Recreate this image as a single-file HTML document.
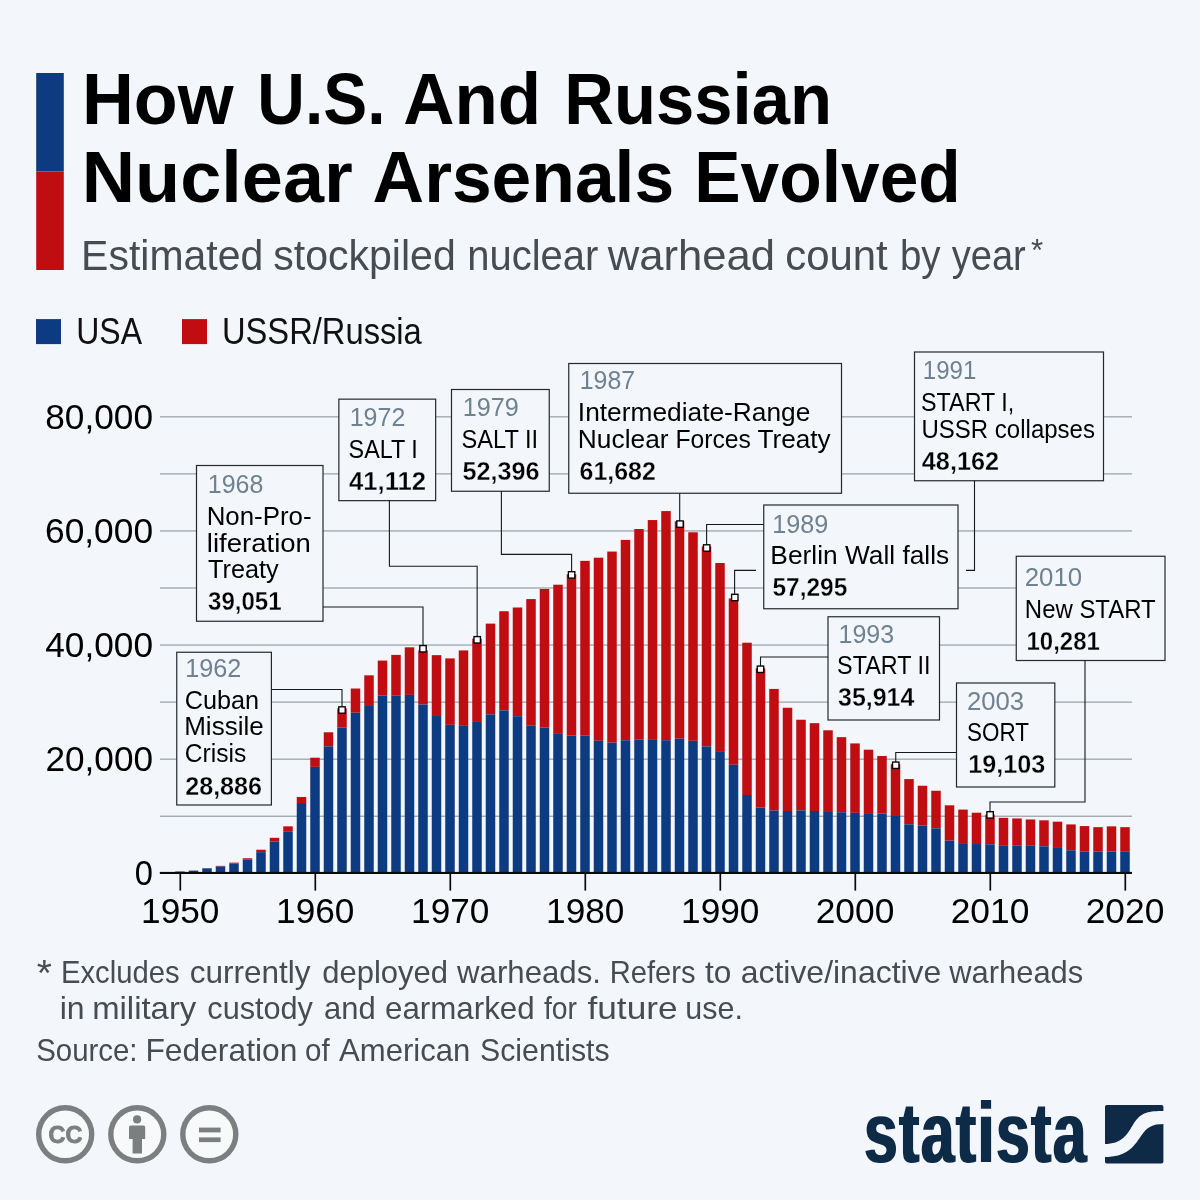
<!DOCTYPE html>
<html lang="en"><head><meta charset="utf-8"><title>How U.S. And Russian Nuclear Arsenals Evolved</title>
<style>html,body{margin:0;padding:0;background:#f3f7fb}svg{display:block}text{font-family:"Liberation Sans",sans-serif}</style></head><body>
<svg width="1200" height="1200" viewBox="0 0 1200 1200">
<defs><filter id="fat" x="-5%" y="-5%" width="110%" height="110%"><feMorphology operator="dilate" radius="1 0"/></filter></defs>
<rect width="1200" height="1200" fill="#f3f7fb"/>
<rect x="36.2" y="73" width="27.6" height="98.4" fill="#0c3b81"/><rect x="36.2" y="171.4" width="27.6" height="98.6" fill="#c00d11"/>
<rect x="36" y="319.1" width="25" height="25" fill="#0c3b81"/><rect x="182" y="319.1" width="25" height="25" fill="#c00d11"/>
<rect x="160" y="815.70" width="972" height="1" fill="#848c92"/>
<rect x="160" y="758.65" width="972" height="1" fill="#848c92"/>
<rect x="160" y="701.60" width="972" height="1" fill="#848c92"/>
<rect x="160" y="644.55" width="972" height="1" fill="#848c92"/>
<rect x="160" y="587.50" width="972" height="1" fill="#848c92"/>
<rect x="160" y="530.45" width="972" height="1" fill="#848c92"/>
<rect x="160" y="473.40" width="972" height="1" fill="#848c92"/>
<rect x="160" y="416.35" width="972" height="1" fill="#848c92"/>
<rect x="175.25" y="871.47" width="9.5" height="0.03" fill="#c00d11"/>
<rect x="175.25" y="871.49" width="9.5" height="1.01" fill="#0c3b81"/>
<rect x="188.75" y="870.56" width="9.5" height="0.14" fill="#c00d11"/>
<rect x="188.75" y="870.70" width="9.5" height="1.80" fill="#0c3b81"/>
<rect x="202.25" y="868.12" width="9.5" height="0.29" fill="#c00d11"/>
<rect x="202.25" y="868.40" width="9.5" height="4.10" fill="#0c3b81"/>
<rect x="215.75" y="865.85" width="9.5" height="0.68" fill="#c00d11"/>
<rect x="215.75" y="866.53" width="9.5" height="5.97" fill="#0c3b81"/>
<rect x="229.25" y="862.63" width="9.5" height="0.86" fill="#c00d11"/>
<rect x="229.25" y="863.48" width="9.5" height="9.02" fill="#0c3b81"/>
<rect x="242.75" y="858.24" width="9.5" height="1.14" fill="#c00d11"/>
<rect x="242.75" y="859.38" width="9.5" height="13.12" fill="#0c3b81"/>
<rect x="256.25" y="849.71" width="9.5" height="2.43" fill="#c00d11"/>
<rect x="256.25" y="852.14" width="9.5" height="20.36" fill="#0c3b81"/>
<rect x="269.75" y="837.81" width="9.5" height="3.77" fill="#c00d11"/>
<rect x="269.75" y="841.58" width="9.5" height="30.92" fill="#0c3b81"/>
<rect x="283.25" y="826.34" width="9.5" height="4.96" fill="#c00d11"/>
<rect x="283.25" y="831.30" width="9.5" height="41.20" fill="#0c3b81"/>
<rect x="296.75" y="796.99" width="9.5" height="6.05" fill="#c00d11"/>
<rect x="296.75" y="803.04" width="9.5" height="69.46" fill="#0c3b81"/>
<rect x="310.25" y="757.71" width="9.5" height="9.16" fill="#c00d11"/>
<rect x="310.25" y="766.87" width="9.5" height="105.63" fill="#0c3b81"/>
<rect x="323.75" y="732.29" width="9.5" height="14.10" fill="#c00d11"/>
<rect x="323.75" y="746.38" width="9.5" height="126.12" fill="#0c3b81"/>
<rect x="337.25" y="708.41" width="9.5" height="19.09" fill="#c00d11"/>
<rect x="337.25" y="727.49" width="9.5" height="145.01" fill="#0c3b81"/>
<rect x="350.75" y="688.52" width="9.5" height="24.18" fill="#c00d11"/>
<rect x="350.75" y="712.70" width="9.5" height="159.80" fill="#0c3b81"/>
<rect x="364.25" y="675.33" width="9.5" height="29.79" fill="#c00d11"/>
<rect x="364.25" y="705.11" width="9.5" height="167.39" fill="#0c3b81"/>
<rect x="377.75" y="660.59" width="9.5" height="34.97" fill="#c00d11"/>
<rect x="377.75" y="695.55" width="9.5" height="176.95" fill="#0c3b81"/>
<rect x="391.25" y="654.90" width="9.5" height="40.44" fill="#c00d11"/>
<rect x="391.25" y="695.35" width="9.5" height="177.15" fill="#0c3b81"/>
<rect x="404.75" y="647.32" width="9.5" height="47.57" fill="#c00d11"/>
<rect x="404.75" y="694.89" width="9.5" height="177.61" fill="#0c3b81"/>
<rect x="418.25" y="650.41" width="9.5" height="54.14" fill="#c00d11"/>
<rect x="418.25" y="704.55" width="9.5" height="167.95" fill="#0c3b81"/>
<rect x="431.75" y="655.15" width="9.5" height="60.86" fill="#c00d11"/>
<rect x="431.75" y="716.02" width="9.5" height="156.48" fill="#0c3b81"/>
<rect x="445.25" y="658.40" width="9.5" height="66.42" fill="#c00d11"/>
<rect x="445.25" y="724.82" width="9.5" height="147.68" fill="#0c3b81"/>
<rect x="458.75" y="650.42" width="9.5" height="75.42" fill="#c00d11"/>
<rect x="458.75" y="725.84" width="9.5" height="146.66" fill="#0c3b81"/>
<rect x="472.25" y="638.66" width="9.5" height="83.27" fill="#c00d11"/>
<rect x="472.25" y="721.93" width="9.5" height="150.57" fill="#0c3b81"/>
<rect x="485.75" y="623.61" width="9.5" height="90.80" fill="#c00d11"/>
<rect x="485.75" y="714.40" width="9.5" height="158.10" fill="#0c3b81"/>
<rect x="499.25" y="611.21" width="9.5" height="99.18" fill="#c00d11"/>
<rect x="499.25" y="710.40" width="9.5" height="162.10" fill="#0c3b81"/>
<rect x="512.75" y="607.50" width="9.5" height="108.71" fill="#c00d11"/>
<rect x="512.75" y="716.20" width="9.5" height="156.30" fill="#0c3b81"/>
<rect x="526.25" y="599.07" width="9.5" height="126.29" fill="#c00d11"/>
<rect x="526.25" y="725.36" width="9.5" height="147.14" fill="#0c3b81"/>
<rect x="539.75" y="588.98" width="9.5" height="138.51" fill="#c00d11"/>
<rect x="539.75" y="727.48" width="9.5" height="145.02" fill="#0c3b81"/>
<rect x="553.25" y="584.70" width="9.5" height="149.20" fill="#c00d11"/>
<rect x="553.25" y="733.90" width="9.5" height="138.60" fill="#0c3b81"/>
<rect x="566.75" y="574.28" width="9.5" height="161.21" fill="#c00d11"/>
<rect x="566.75" y="735.49" width="9.5" height="137.01" fill="#0c3b81"/>
<rect x="580.25" y="560.85" width="9.5" height="174.84" fill="#c00d11"/>
<rect x="580.25" y="735.69" width="9.5" height="136.81" fill="#0c3b81"/>
<rect x="593.75" y="557.71" width="9.5" height="183.08" fill="#c00d11"/>
<rect x="593.75" y="740.80" width="9.5" height="131.70" fill="#0c3b81"/>
<rect x="607.25" y="551.55" width="9.5" height="191.08" fill="#c00d11"/>
<rect x="607.25" y="742.64" width="9.5" height="129.86" fill="#0c3b81"/>
<rect x="620.75" y="539.91" width="9.5" height="200.33" fill="#c00d11"/>
<rect x="620.75" y="740.24" width="9.5" height="132.26" fill="#0c3b81"/>
<rect x="634.25" y="529.02" width="9.5" height="210.35" fill="#c00d11"/>
<rect x="634.25" y="739.37" width="9.5" height="133.13" fill="#0c3b81"/>
<rect x="647.75" y="520.06" width="9.5" height="219.83" fill="#c00d11"/>
<rect x="647.75" y="739.89" width="9.5" height="132.61" fill="#0c3b81"/>
<rect x="661.25" y="511.07" width="9.5" height="229.11" fill="#c00d11"/>
<rect x="661.25" y="740.18" width="9.5" height="132.32" fill="#0c3b81"/>
<rect x="674.75" y="521.30" width="9.5" height="217.40" fill="#c00d11"/>
<rect x="674.75" y="738.70" width="9.5" height="133.80" fill="#0c3b81"/>
<rect x="688.25" y="532.27" width="9.5" height="208.55" fill="#c00d11"/>
<rect x="688.25" y="740.82" width="9.5" height="131.68" fill="#0c3b81"/>
<rect x="701.75" y="546.33" width="9.5" height="200.12" fill="#c00d11"/>
<rect x="701.75" y="746.45" width="9.5" height="126.05" fill="#0c3b81"/>
<rect x="715.25" y="563.01" width="9.5" height="188.15" fill="#c00d11"/>
<rect x="715.25" y="751.16" width="9.5" height="121.34" fill="#0c3b81"/>
<rect x="728.75" y="598.44" width="9.5" height="166.32" fill="#c00d11"/>
<rect x="728.75" y="764.76" width="9.5" height="107.74" fill="#0c3b81"/>
<rect x="742.25" y="642.72" width="9.5" height="152.28" fill="#c00d11"/>
<rect x="742.25" y="795.00" width="9.5" height="77.50" fill="#0c3b81"/>
<rect x="755.75" y="668.31" width="9.5" height="139.22" fill="#c00d11"/>
<rect x="755.75" y="807.53" width="9.5" height="64.97" fill="#0c3b81"/>
<rect x="769.25" y="688.93" width="9.5" height="121.64" fill="#c00d11"/>
<rect x="769.25" y="810.56" width="9.5" height="61.94" fill="#0c3b81"/>
<rect x="782.75" y="707.76" width="9.5" height="103.24" fill="#c00d11"/>
<rect x="782.75" y="810.99" width="9.5" height="61.51" fill="#0c3b81"/>
<rect x="796.25" y="719.74" width="9.5" height="90.65" fill="#c00d11"/>
<rect x="796.25" y="810.38" width="9.5" height="62.12" fill="#0c3b81"/>
<rect x="809.75" y="723.16" width="9.5" height="87.84" fill="#c00d11"/>
<rect x="809.75" y="811.00" width="9.5" height="61.50" fill="#0c3b81"/>
<rect x="823.25" y="730.29" width="9.5" height="81.68" fill="#c00d11"/>
<rect x="823.25" y="811.97" width="9.5" height="60.53" fill="#0c3b81"/>
<rect x="836.75" y="737.14" width="9.5" height="75.11" fill="#c00d11"/>
<rect x="836.75" y="812.24" width="9.5" height="60.26" fill="#0c3b81"/>
<rect x="850.25" y="743.41" width="9.5" height="69.45" fill="#c00d11"/>
<rect x="850.25" y="812.86" width="9.5" height="59.64" fill="#0c3b81"/>
<rect x="863.75" y="749.69" width="9.5" height="63.46" fill="#c00d11"/>
<rect x="863.75" y="813.15" width="9.5" height="59.35" fill="#0c3b81"/>
<rect x="877.25" y="755.96" width="9.5" height="57.58" fill="#c00d11"/>
<rect x="877.25" y="813.54" width="9.5" height="58.96" fill="#0c3b81"/>
<rect x="890.75" y="764.22" width="9.5" height="51.78" fill="#c00d11"/>
<rect x="890.75" y="816.00" width="9.5" height="56.50" fill="#0c3b81"/>
<rect x="904.25" y="779.07" width="9.5" height="45.24" fill="#c00d11"/>
<rect x="904.25" y="824.31" width="9.5" height="48.19" fill="#0c3b81"/>
<rect x="917.75" y="785.74" width="9.5" height="39.76" fill="#c00d11"/>
<rect x="917.75" y="825.51" width="9.5" height="46.99" fill="#0c3b81"/>
<rect x="931.25" y="790.76" width="9.5" height="37.64" fill="#c00d11"/>
<rect x="931.25" y="828.40" width="9.5" height="44.10" fill="#0c3b81"/>
<rect x="944.75" y="805.31" width="9.5" height="35.32" fill="#c00d11"/>
<rect x="944.75" y="840.63" width="9.5" height="31.87" fill="#0c3b81"/>
<rect x="958.25" y="809.59" width="9.5" height="33.53" fill="#c00d11"/>
<rect x="958.25" y="843.12" width="9.5" height="29.38" fill="#0c3b81"/>
<rect x="971.75" y="812.73" width="9.5" height="31.30" fill="#c00d11"/>
<rect x="971.75" y="844.03" width="9.5" height="28.47" fill="#0c3b81"/>
<rect x="985.25" y="814.55" width="9.5" height="29.75" fill="#c00d11"/>
<rect x="985.25" y="844.30" width="9.5" height="28.20" fill="#0c3b81"/>
<rect x="998.75" y="817.86" width="9.5" height="27.40" fill="#c00d11"/>
<rect x="998.75" y="845.26" width="9.5" height="27.24" fill="#0c3b81"/>
<rect x="1012.25" y="818.43" width="9.5" height="26.92" fill="#c00d11"/>
<rect x="1012.25" y="845.35" width="9.5" height="27.15" fill="#0c3b81"/>
<rect x="1025.75" y="819.46" width="9.5" height="26.33" fill="#c00d11"/>
<rect x="1025.75" y="845.79" width="9.5" height="26.71" fill="#0c3b81"/>
<rect x="1039.25" y="820.31" width="9.5" height="25.97" fill="#c00d11"/>
<rect x="1039.25" y="846.29" width="9.5" height="26.21" fill="#0c3b81"/>
<rect x="1052.75" y="821.68" width="9.5" height="25.44" fill="#c00d11"/>
<rect x="1052.75" y="847.12" width="9.5" height="25.38" fill="#0c3b81"/>
<rect x="1066.25" y="824.42" width="9.5" height="25.86" fill="#c00d11"/>
<rect x="1066.25" y="850.28" width="9.5" height="22.22" fill="#0c3b81"/>
<rect x="1079.75" y="826.08" width="9.5" height="25.32" fill="#c00d11"/>
<rect x="1079.75" y="851.40" width="9.5" height="21.10" fill="#0c3b81"/>
<rect x="1093.25" y="827.16" width="9.5" height="24.45" fill="#c00d11"/>
<rect x="1093.25" y="851.61" width="9.5" height="20.89" fill="#0c3b81"/>
<rect x="1106.75" y="826.36" width="9.5" height="25.13" fill="#c00d11"/>
<rect x="1106.75" y="851.49" width="9.5" height="21.01" fill="#0c3b81"/>
<rect x="1120.25" y="827.16" width="9.5" height="24.65" fill="#c00d11"/>
<rect x="1120.25" y="851.81" width="9.5" height="20.69" fill="#0c3b81"/>
<rect x="159.8" y="871.9" width="972.2" height="2.1" fill="#0a0a0a"/>
<rect x="179.45" y="873" width="1.7" height="17.6" fill="#0a0a0a"/>
<rect x="314.45" y="873" width="1.7" height="17.6" fill="#0a0a0a"/>
<rect x="449.45" y="873" width="1.7" height="17.6" fill="#0a0a0a"/>
<rect x="584.45" y="873" width="1.7" height="17.6" fill="#0a0a0a"/>
<rect x="719.45" y="873" width="1.7" height="17.6" fill="#0a0a0a"/>
<rect x="854.45" y="873" width="1.7" height="17.6" fill="#0a0a0a"/>
<rect x="989.45" y="873" width="1.7" height="17.6" fill="#0a0a0a"/>
<rect x="1124.45" y="873" width="1.7" height="17.6" fill="#0a0a0a"/>
<rect x="176.75" y="652.25" width="94.65" height="152.75" fill="#f3f7fb" stroke="#24292d" stroke-width="1.2"/>
<rect x="196.50" y="465.50" width="126.50" height="155.75" fill="#f3f7fb" stroke="#24292d" stroke-width="1.2"/>
<rect x="338.85" y="399.15" width="96.80" height="101.50" fill="#f3f7fb" stroke="#24292d" stroke-width="1.2"/>
<rect x="451.50" y="389.50" width="97.75" height="101.75" fill="#f3f7fb" stroke="#24292d" stroke-width="1.2"/>
<rect x="568.75" y="363.50" width="272.75" height="129.75" fill="#f3f7fb" stroke="#24292d" stroke-width="1.2"/>
<rect x="763.75" y="505.00" width="194.25" height="103.75" fill="#f3f7fb" stroke="#24292d" stroke-width="1.2"/>
<rect x="914.50" y="352.00" width="189.00" height="128.75" fill="#f3f7fb" stroke="#24292d" stroke-width="1.2"/>
<rect x="828.00" y="616.75" width="111.50" height="103.25" fill="#f3f7fb" stroke="#24292d" stroke-width="1.2"/>
<rect x="956.50" y="683.00" width="98.30" height="104.00" fill="#f3f7fb" stroke="#24292d" stroke-width="1.2"/>
<rect x="1016.25" y="556.25" width="148.75" height="104.25" fill="#f3f7fb" stroke="#24292d" stroke-width="1.2"/>
<polyline points="271.40,689.50 342.00,689.50 342.00,707.00" fill="none" stroke="#15181b" stroke-width="1.1"/>
<polyline points="323.00,607.00 423.00,607.00 423.00,646.00" fill="none" stroke="#15181b" stroke-width="1.1"/>
<polyline points="389.40,500.60 389.40,566.25 477.15,566.25 477.15,637.00" fill="none" stroke="#15181b" stroke-width="1.1"/>
<polyline points="501.40,491.25 501.40,554.40 571.60,554.40 571.60,572.00" fill="none" stroke="#15181b" stroke-width="1.1"/>
<polyline points="679.70,493.25 679.70,521.00" fill="none" stroke="#15181b" stroke-width="1.1"/>
<polyline points="763.75,524.50 706.60,524.50 706.60,545.00" fill="none" stroke="#15181b" stroke-width="1.1"/>
<polyline points="974.50,480.75 974.50,570.40 966.00,570.40" fill="none" stroke="#15181b" stroke-width="1.1"/>
<polyline points="756.00,570.40 734.60,570.40 734.60,594.00" fill="none" stroke="#15181b" stroke-width="1.1"/>
<polyline points="828.00,657.00 760.50,657.00 760.50,666.00" fill="none" stroke="#15181b" stroke-width="1.1"/>
<polyline points="956.50,752.50 895.75,752.50 895.75,762.00" fill="none" stroke="#15181b" stroke-width="1.1"/>
<polyline points="1085.00,660.50 1085.00,802.00 990.00,802.00 990.00,812.00" fill="none" stroke="#15181b" stroke-width="1.1"/>
<rect x="338.80" y="706.80" width="6.4" height="6.4" fill="#fff" stroke="#000" stroke-width="1.35"/>
<rect x="419.80" y="645.55" width="6.4" height="6.4" fill="#fff" stroke="#000" stroke-width="1.35"/>
<rect x="474.00" y="636.60" width="6.4" height="6.4" fill="#fff" stroke="#000" stroke-width="1.35"/>
<rect x="568.40" y="571.70" width="6.4" height="6.4" fill="#fff" stroke="#000" stroke-width="1.35"/>
<rect x="676.80" y="520.90" width="6.4" height="6.4" fill="#fff" stroke="#000" stroke-width="1.35"/>
<rect x="703.50" y="544.80" width="6.4" height="6.4" fill="#fff" stroke="#000" stroke-width="1.35"/>
<rect x="731.60" y="594.30" width="6.4" height="6.4" fill="#fff" stroke="#000" stroke-width="1.35"/>
<rect x="757.30" y="666.05" width="6.4" height="6.4" fill="#fff" stroke="#000" stroke-width="1.35"/>
<rect x="892.55" y="762.05" width="6.4" height="6.4" fill="#fff" stroke="#000" stroke-width="1.35"/>
<rect x="986.90" y="811.70" width="6.4" height="6.4" fill="#fff" stroke="#000" stroke-width="1.35"/>
<text x="82.03" y="123.90" font-size="72.40" font-weight="bold" fill="#000" textLength="151.58" lengthAdjust="spacingAndGlyphs">How</text>
<text x="257.36" y="123.90" font-size="72.40" font-weight="bold" fill="#000" textLength="128.08" lengthAdjust="spacingAndGlyphs">U.S.</text>
<text x="403.27" y="123.90" font-size="72.40" font-weight="bold" fill="#000" textLength="137.86" lengthAdjust="spacingAndGlyphs">And</text>
<text x="564.30" y="123.90" font-size="72.40" font-weight="bold" fill="#000" textLength="267.71" lengthAdjust="spacingAndGlyphs">Russian</text>
<text x="81.72" y="201.80" font-size="72.40" font-weight="bold" fill="#000" textLength="271.06" lengthAdjust="spacingAndGlyphs">Nuclear</text>
<text x="372.61" y="201.80" font-size="72.40" font-weight="bold" fill="#000" textLength="301.51" lengthAdjust="spacingAndGlyphs">Arsenals</text>
<text x="694.26" y="201.80" font-size="72.40" font-weight="bold" fill="#000" textLength="266.59" lengthAdjust="spacingAndGlyphs">Evolved</text>
<text x="81.10" y="269.70" font-size="42.40" fill="#464c51" textLength="182.19" lengthAdjust="spacingAndGlyphs">Estimated</text>
<text x="273.23" y="269.70" font-size="42.40" fill="#464c51" textLength="182.56" lengthAdjust="spacingAndGlyphs">stockpiled</text>
<text x="467.31" y="269.70" font-size="42.40" fill="#464c51" textLength="131.10" lengthAdjust="spacingAndGlyphs">nuclear</text>
<text x="607.73" y="269.70" font-size="42.40" fill="#464c51" textLength="167.42" lengthAdjust="spacingAndGlyphs">warhead</text>
<text x="785.26" y="269.70" font-size="42.40" fill="#464c51" textLength="102.52" lengthAdjust="spacingAndGlyphs">count</text>
<text x="899.88" y="269.70" font-size="42.40" fill="#464c51" textLength="40.63" lengthAdjust="spacingAndGlyphs">by</text>
<text x="951.70" y="269.70" font-size="42.40" fill="#464c51" textLength="74.10" lengthAdjust="spacingAndGlyphs">year</text>
<text x="1031.00" y="261.28" font-size="30.56" fill="#464c51" textLength="12.18" lengthAdjust="spacingAndGlyphs">*</text>
<text x="76.22" y="343.80" font-size="36.00" fill="#111" textLength="65.79" lengthAdjust="spacingAndGlyphs">USA</text>
<text x="221.93" y="343.80" font-size="36.00" fill="#111" textLength="199.88" lengthAdjust="spacingAndGlyphs">USSR/Russia</text>
<text x="45.25" y="428.70" font-size="35.30" fill="#000" textLength="107.78" lengthAdjust="spacingAndGlyphs">80,000</text>
<text x="45.00" y="542.80" font-size="35.30" fill="#000" textLength="108.03" lengthAdjust="spacingAndGlyphs">60,000</text>
<text x="45.25" y="656.90" font-size="35.30" fill="#000" textLength="107.78" lengthAdjust="spacingAndGlyphs">40,000</text>
<text x="45.50" y="771.00" font-size="35.30" fill="#000" textLength="107.52" lengthAdjust="spacingAndGlyphs">20,000</text>
<text x="134.67" y="884.70" font-size="35.30" fill="#000" textLength="18.16" lengthAdjust="spacingAndGlyphs">0</text>
<text x="141.11" y="922.60" font-size="35.30" fill="#000" textLength="78.27" lengthAdjust="spacingAndGlyphs">1950</text>
<text x="276.11" y="922.60" font-size="35.30" fill="#000" textLength="78.27" lengthAdjust="spacingAndGlyphs">1960</text>
<text x="411.11" y="922.60" font-size="35.30" fill="#000" textLength="78.27" lengthAdjust="spacingAndGlyphs">1970</text>
<text x="546.11" y="922.60" font-size="35.30" fill="#000" textLength="78.27" lengthAdjust="spacingAndGlyphs">1980</text>
<text x="681.11" y="922.60" font-size="35.30" fill="#000" textLength="78.27" lengthAdjust="spacingAndGlyphs">1990</text>
<text x="815.70" y="922.60" font-size="35.30" fill="#000" textLength="78.63" lengthAdjust="spacingAndGlyphs">2000</text>
<text x="950.70" y="922.60" font-size="35.30" fill="#000" textLength="78.63" lengthAdjust="spacingAndGlyphs">2010</text>
<text x="1085.70" y="922.60" font-size="35.30" fill="#000" textLength="78.63" lengthAdjust="spacingAndGlyphs">2020</text>
<text x="36.70" y="985.88" font-size="37.50" fill="#464c51" textLength="15.11" lengthAdjust="spacingAndGlyphs">*</text>
<text x="61.03" y="982.80" font-size="31.20" fill="#464c51" textLength="118.53" lengthAdjust="spacingAndGlyphs">Excludes</text>
<text x="189.69" y="982.80" font-size="31.20" fill="#464c51" textLength="120.90" lengthAdjust="spacingAndGlyphs">currently</text>
<text x="322.31" y="982.80" font-size="31.20" fill="#464c51" textLength="125.73" lengthAdjust="spacingAndGlyphs">deployed</text>
<text x="457.00" y="982.80" font-size="31.20" fill="#464c51" textLength="143.97" lengthAdjust="spacingAndGlyphs">warheads.</text>
<text x="609.83" y="982.80" font-size="31.20" fill="#464c51" textLength="85.72" lengthAdjust="spacingAndGlyphs">Refers</text>
<text x="705.00" y="982.80" font-size="31.20" fill="#464c51" textLength="26.35" lengthAdjust="spacingAndGlyphs">to</text>
<text x="740.68" y="982.80" font-size="31.20" fill="#464c51" textLength="200.70" lengthAdjust="spacingAndGlyphs">active/inactive</text>
<text x="949.29" y="982.80" font-size="31.20" fill="#464c51" textLength="133.90" lengthAdjust="spacingAndGlyphs">warheads</text>
<text x="59.75" y="1018.70" font-size="31.20" fill="#464c51" textLength="24.94" lengthAdjust="spacingAndGlyphs">in</text>
<text x="92.19" y="1018.70" font-size="31.20" fill="#464c51" textLength="104.08" lengthAdjust="spacingAndGlyphs">military</text>
<text x="207.32" y="1018.70" font-size="31.20" fill="#464c51" textLength="105.58" lengthAdjust="spacingAndGlyphs">custody</text>
<text x="324.01" y="1018.70" font-size="31.20" fill="#464c51" textLength="51.63" lengthAdjust="spacingAndGlyphs">and</text>
<text x="385.00" y="1018.70" font-size="31.20" fill="#464c51" textLength="149.65" lengthAdjust="spacingAndGlyphs">earmarked</text>
<text x="544.00" y="1018.70" font-size="31.20" fill="#464c51" textLength="33.05" lengthAdjust="spacingAndGlyphs">for</text>
<text x="587.50" y="1018.70" font-size="31.20" fill="#464c51" textLength="90.02" lengthAdjust="spacingAndGlyphs">future</text>
<text x="685.35" y="1018.70" font-size="31.20" fill="#464c51" textLength="57.55" lengthAdjust="spacingAndGlyphs">use.</text>
<text x="36.16" y="1060.90" font-size="31.20" fill="#464c51" textLength="101.36" lengthAdjust="spacingAndGlyphs">Source:</text>
<text x="145.46" y="1060.90" font-size="31.20" fill="#464c51" textLength="151.91" lengthAdjust="spacingAndGlyphs">Federation</text>
<text x="305.05" y="1060.90" font-size="31.20" fill="#464c51" textLength="24.63" lengthAdjust="spacingAndGlyphs">of</text>
<text x="339.00" y="1060.90" font-size="31.20" fill="#464c51" textLength="131.34" lengthAdjust="spacingAndGlyphs">American</text>
<text x="480.03" y="1060.90" font-size="31.20" fill="#464c51" textLength="129.55" lengthAdjust="spacingAndGlyphs">Scientists</text>
<text x="864.19" y="1162.20" font-size="85.00" font-weight="bold" filter="url(#fat)" letter-spacing="2.6" fill="#0f2a47" textLength="223.82" lengthAdjust="spacingAndGlyphs">statista</text>
<text x="185.24" y="677.20" font-size="24.90" fill="#6f8290" textLength="56.12" lengthAdjust="spacingAndGlyphs">1962</text>
<text x="184.79" y="708.60" font-size="24.90" fill="#000" textLength="74.37" lengthAdjust="spacingAndGlyphs">Cuban</text>
<text x="184.21" y="735.40" font-size="24.90" fill="#000" textLength="79.47" lengthAdjust="spacingAndGlyphs">Missile</text>
<text x="184.81" y="762.40" font-size="24.90" fill="#000" textLength="61.43" lengthAdjust="spacingAndGlyphs">Crisis</text>
<text x="185.20" y="794.50" font-size="24.90" font-weight="bold" stroke="#f3f7fb" stroke-width="0.30" fill="#000" textLength="76.85" lengthAdjust="spacingAndGlyphs">28,886</text>
<text x="207.75" y="492.50" font-size="24.90" fill="#6f8290" textLength="55.60" lengthAdjust="spacingAndGlyphs">1968</text>
<text x="206.67" y="524.50" font-size="24.90" fill="#000" textLength="104.88" lengthAdjust="spacingAndGlyphs">Non-Pro-</text>
<text x="206.89" y="551.50" font-size="24.90" fill="#000" textLength="104.04" lengthAdjust="spacingAndGlyphs">liferation</text>
<text x="208.00" y="578.25" font-size="24.90" fill="#000" textLength="70.69" lengthAdjust="spacingAndGlyphs">Treaty</text>
<text x="208.00" y="610.00" font-size="24.90" font-weight="bold" stroke="#f3f7fb" stroke-width="0.30" fill="#000" textLength="73.60" lengthAdjust="spacingAndGlyphs">39,051</text>
<text x="349.69" y="425.50" font-size="24.90" fill="#6f8290" textLength="55.65" lengthAdjust="spacingAndGlyphs">1972</text>
<text x="348.57" y="458.00" font-size="24.90" fill="#000" textLength="69.22" lengthAdjust="spacingAndGlyphs">SALT I</text>
<text x="349.00" y="489.50" font-size="24.90" font-weight="bold" stroke="#f3f7fb" stroke-width="0.30" fill="#000" textLength="77.07" lengthAdjust="spacingAndGlyphs">41,112</text>
<text x="462.74" y="415.75" font-size="24.90" fill="#6f8290" textLength="56.12" lengthAdjust="spacingAndGlyphs">1979</text>
<text x="461.56" y="447.50" font-size="24.90" fill="#000" textLength="76.50" lengthAdjust="spacingAndGlyphs">SALT II</text>
<text x="462.50" y="479.50" font-size="24.90" font-weight="bold" stroke="#f3f7fb" stroke-width="0.30" fill="#000" textLength="77.10" lengthAdjust="spacingAndGlyphs">52,396</text>
<text x="579.75" y="389.25" font-size="24.90" fill="#6f8290" textLength="55.34" lengthAdjust="spacingAndGlyphs">1987</text>
<text x="577.89" y="421.25" font-size="24.90" fill="#000" textLength="232.50" lengthAdjust="spacingAndGlyphs">Intermediate-Range</text>
<text x="577.89" y="448.25" font-size="24.90" fill="#000" textLength="90.67" lengthAdjust="spacingAndGlyphs">Nuclear</text>
<text x="675.52" y="448.25" font-size="24.90" fill="#000" textLength="75.42" lengthAdjust="spacingAndGlyphs">Forces</text>
<text x="757.50" y="448.25" font-size="24.90" fill="#000" textLength="73.17" lengthAdjust="spacingAndGlyphs">Treaty</text>
<text x="579.50" y="480.00" font-size="24.90" font-weight="bold" stroke="#f3f7fb" stroke-width="0.30" fill="#000" textLength="76.35" lengthAdjust="spacingAndGlyphs">61,682</text>
<text x="772.24" y="532.50" font-size="24.90" fill="#6f8290" textLength="56.12" lengthAdjust="spacingAndGlyphs">1989</text>
<text x="770.39" y="563.75" font-size="24.90" fill="#000" textLength="178.83" lengthAdjust="spacingAndGlyphs">Berlin Wall falls</text>
<text x="772.50" y="596.25" font-size="24.90" font-weight="bold" stroke="#f3f7fb" stroke-width="0.30" fill="#000" textLength="74.85" lengthAdjust="spacingAndGlyphs">57,295</text>
<text x="922.78" y="379.25" font-size="24.90" fill="#6f8290" textLength="53.53" lengthAdjust="spacingAndGlyphs">1991</text>
<text x="921.07" y="411.25" font-size="24.90" fill="#000" textLength="93.22" lengthAdjust="spacingAndGlyphs">START I,</text>
<text x="921.54" y="438.25" font-size="24.90" fill="#000" textLength="173.39" lengthAdjust="spacingAndGlyphs">USSR collapses</text>
<text x="921.75" y="470.00" font-size="24.90" font-weight="bold" stroke="#f3f7fb" stroke-width="0.30" fill="#000" textLength="77.36" lengthAdjust="spacingAndGlyphs">48,162</text>
<text x="838.50" y="642.50" font-size="24.90" fill="#6f8290" textLength="55.60" lengthAdjust="spacingAndGlyphs">1993</text>
<text x="837.07" y="674.25" font-size="24.90" fill="#000" textLength="93.47" lengthAdjust="spacingAndGlyphs">START II</text>
<text x="838.00" y="706.25" font-size="24.90" font-weight="bold" stroke="#f3f7fb" stroke-width="0.30" fill="#000" textLength="76.34" lengthAdjust="spacingAndGlyphs">35,914</text>
<text x="966.97" y="709.50" font-size="24.90" fill="#6f8290" textLength="57.15" lengthAdjust="spacingAndGlyphs">2003</text>
<text x="967.10" y="741.25" font-size="24.90" fill="#000" textLength="61.83" lengthAdjust="spacingAndGlyphs">SORT</text>
<text x="968.24" y="773.25" font-size="24.90" font-weight="bold" stroke="#f3f7fb" stroke-width="0.30" fill="#000" textLength="77.12" lengthAdjust="spacingAndGlyphs">19,103</text>
<text x="1024.71" y="585.75" font-size="24.90" fill="#6f8290" textLength="57.41" lengthAdjust="spacingAndGlyphs">2010</text>
<text x="1024.83" y="617.50" font-size="24.90" fill="#000" textLength="130.87" lengthAdjust="spacingAndGlyphs">New START</text>
<text x="1026.54" y="649.50" font-size="24.90" font-weight="bold" stroke="#f3f7fb" stroke-width="0.30" fill="#000" textLength="73.31" lengthAdjust="spacingAndGlyphs">10,281</text>
<g id="cc" fill="none" stroke="#7b7f80" stroke-width="5.4">
<circle cx="65.2" cy="1134.3" r="26.5" fill="#f7f9fb"/>
<circle cx="137.3" cy="1134.3" r="26.5" fill="#f7f9fb"/>
<circle cx="209.3" cy="1134.3" r="26.5" fill="#f7f9fb"/>
</g>
<text x="48.6" y="1143" font-size="24.5" font-weight="bold" fill="#7b7f80" stroke="#7b7f80" stroke-width="0.9" stroke-linejoin="round" textLength="33.8" lengthAdjust="spacingAndGlyphs">CC</text>
<g fill="#7b7f80">
<circle cx="137.1" cy="1119.4" r="4.1"/>
<path d="M129,1127.2 q0,-1.6 1.6,-1.6 h13 q1.6,0 1.6,1.6 v11.8 h-3.2 v14.6 h-9.4 v-14.6 h-3.6 z"/>
<rect x="199" y="1127.6" width="21.6" height="4.8"/>
<rect x="199" y="1137.4" width="21.6" height="4.7"/>
</g>
<g id="logo">
<rect x="1105" y="1104.9" width="58.4" height="58.7" rx="1.8" fill="#0f2a47"/>
<path d="M1104.5,1144 C1122,1144 1127,1135 1134,1123 C1141,1112 1149,1110.9 1164,1110.9 L1164,1124 C1152,1124 1147,1127 1141,1136 C1133,1148 1126,1157 1104.5,1157 Z" fill="#f3f7fb"/>
</g>

</svg></body></html>
